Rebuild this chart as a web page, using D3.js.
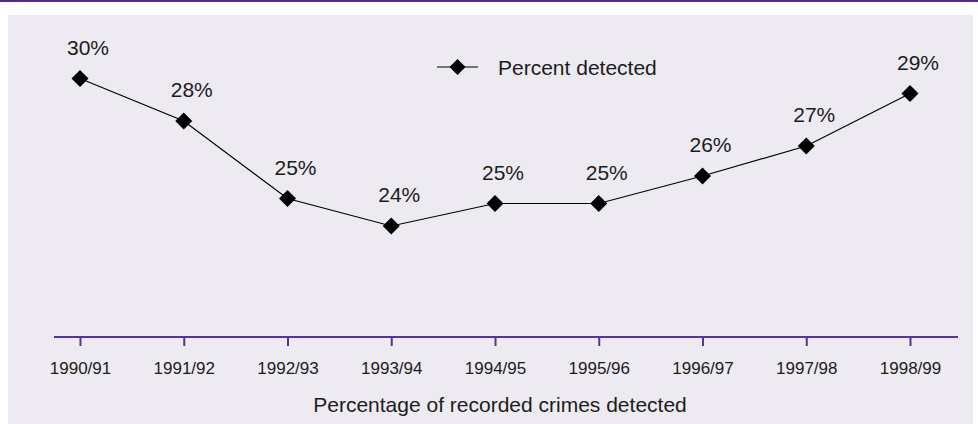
<!DOCTYPE html>
<html>
<head>
<meta charset="utf-8">
<script src="https://cdn.jsdelivr.net/npm/d3@7"></script>
<style>
  body { margin: 0; background: #ffffff; }
  svg text { font-family: "Liberation Sans", Arial, sans-serif; fill: #1c1c1c; }
</style>
</head>
<body>
<div id="detected"><svg></svg></div>
<script>
const years = ['1990/91', '1991/92', '1992/93', '1993/94', '1994/95', '1995/96', '1996/97', '1997/98', '1998/99'];
const percentDetected = [29.9, 28.2, 25.1, 24.0, 24.9, 24.9, 26.0, 27.2, 29.3];
const seriesName = 'Percent detected';
const axisTitle = 'Percentage of recorded crimes detected';

(function() {

  const width = 978;
  const height = 424;
  const margin = {
    left: 80,
    right: 68,
    top: 76,
    bottom: 87
  };
  const axisY = 337;

  const svg = d3.select(document.getElementById('detected').getElementsByTagName('svg')[0])
    .attr('width', width)
    .attr('height', height);

  // panel background and purple rule on top
  svg.append('rect')
    .attr('x', 8)
    .attr('y', 15)
    .attr('width', 965)
    .attr('height', height - 15)
    .attr('fill', '#edeaf1');

  svg.append('rect')
    .attr('x', 0)
    .attr('y', 0)
    .attr('width', width)
    .attr('height', 2)
    .attr('fill', '#4b2c88');

  const x = d3.scalePoint()
    .domain(years)
    .range([margin.left, width - margin.right]);

  const y = d3.scaleLinear()
    .domain([20, 30])
    .range([326, margin.top]);

  // category axis
  svg.append('line')
    .attr('x1', 54)
    .attr('x2', 958)
    .attr('y1', axisY)
    .attr('y2', axisY)
    .attr('stroke', '#553399')
    .attr('stroke-width', 2);

  const xAxis = d3.axisBottom(x).tickSize(9).tickPadding(16);

  const axisGroup = svg.append('g')
    .attr('class', 'x axis')
    .attr('transform', 'translate(0,' + axisY + ')')
    .call(xAxis);

  axisGroup.attr('font-family', null).attr('font-size', null);
  axisGroup.select('.domain').remove();
  axisGroup.selectAll('.tick line')
    .attr('stroke', '#553399')
    .attr('stroke-width', 2);
  axisGroup.selectAll('.tick text')
    .style('font-size', '17px')
    .attr('fill', '#1c1c1c');

  svg.append('text')
    .attr('x', 500)
    .attr('y', 412)
    .attr('text-anchor', 'middle')
    .style('font-size', '21px')
    .text(axisTitle);

  // series line
  const line = d3.line()
    .x(function(d, i) {
      return x(years[i]);
    })
    .y(function(d) {
      return y(d);
    });

  svg.append('path')
    .datum(percentDetected)
    .attr('d', line)
    .attr('fill', 'none')
    .attr('stroke', '#000000')
    .attr('stroke-width', 1.2);

  const diamond = d3.symbol().type(d3.symbolSquare).size(144);

  svg.append('g')
    .attr('class', 'markers')
    .selectAll('path')
    .data(percentDetected)
    .enter()
    .append('path')
    .attr('d', diamond)
    .attr('transform', function(d, i) {
      return 'translate(' + x(years[i]) + ',' + y(d) + ') rotate(45)';
    })
    .attr('fill', '#000000');

  svg.append('g')
    .attr('class', 'labels')
    .selectAll('text')
    .data(percentDetected)
    .enter()
    .append('text')
    .attr('x', function(d, i) {
      return x(years[i]) + 8;
    })
    .attr('y', function(d) {
      return y(d) - 24;
    })
    .attr('text-anchor', 'middle')
    .style('font-size', '21px')
    .text(function(d) {
      return Math.round(d) + '%';
    });

  // legend
  const legend = svg.append('g')
    .attr('class', 'legend')
    .attr('transform', 'translate(437,67)');

  legend.append('line')
    .attr('x1', 0)
    .attr('x2', 41)
    .attr('stroke', '#000000')
    .attr('stroke-width', 1.2);

  legend.append('path')
    .attr('d', d3.symbol().type(d3.symbolSquare).size(128))
    .attr('transform', 'translate(20.5,0) rotate(45)')
    .attr('fill', '#000000');

  legend.append('text')
    .attr('x', 61)
    .attr('y', 8)
    .style('font-size', '21px')
    .text(seriesName);

})();
</script>
</body>
</html>
